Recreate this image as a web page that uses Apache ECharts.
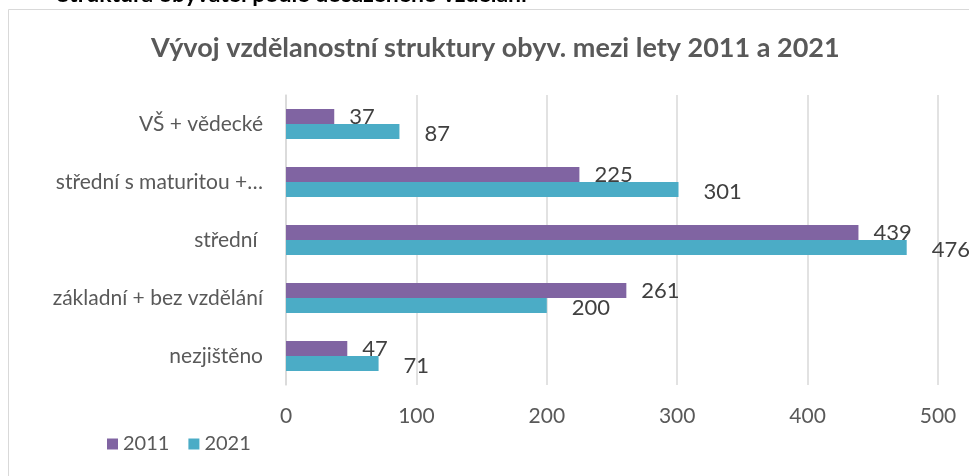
<!DOCTYPE html>
<html>
<head>
<meta charset="utf-8">
<script src="https://cdn.jsdelivr.net/npm/echarts@6/dist/echarts.min.js"></script>
<style>
  html, body { margin: 0; padding: 0; background: #fff; }
  #main { width: 969px; height: 476px; }
</style>
</head>
<body>
<div id="main"></div>
<script>
  // data
  var categories = ['VŠ + vědecké', 'střední s maturitou +…', 'střední ', 'základní + bez vzdělání', 'nezjištěno'];
  var values2011 = [37, 225, 439, 261, 47];
  var values2021 = [87, 301, 476, 200, 71];
  var seriesNames = ['2011', '2021'];

  var font = 'Lato, "Open Sans", sans-serif';
  var myChart = echarts.init(document.getElementById('main'));

  var option = {
    animation: false,
    textStyle: { fontFamily: font },
    graphic: [
      {
        type: 'rect',
        shape: { x: 8.5, y: 9.5, width: 1000, height: 600 },
        style: { fill: '#fff', stroke: '#d9d9d9', lineWidth: 1 },
        z: -10
      },
      {
        type: 'text',
        left: 57,
        top: -17,
        style: {
          text: 'Struktura obyvatel podle dosaženého vzdělání',
          fill: '#000',
          font: 'bold 23px ' + font
        }
      }
    ],
    title: {
      text: 'Vývoj vzdělanostní struktury obyv. mezi lety 2011 a 2021',
      left: 146,
      top: 30,
      textStyle: { fontSize: 27, fontWeight: 'bold', color: '#595959', fontFamily: font }
    },
    legend: {
      data: seriesNames,
      left: 102,
      top: 429,
      icon: 'rect',
      itemWidth: 11,
      itemHeight: 11,
      itemGap: 19,
      textStyle: { fontSize: 20, color: '#595959', fontFamily: font }
    },
    grid: { left: 286, right: 31, top: 95, bottom: 91 },
    xAxis: {
      type: 'value',
      min: 0,
      max: 500,
      interval: 100,
      axisLine: { show: false },
      axisTick: { show: false },
      splitLine: { lineStyle: { color: '#d9d9d9', width: 1.5 } },
      axisLabel: { fontSize: 21, color: '#595959', margin: 21, fontFamily: font }
    },
    yAxis: {
      type: 'category',
      inverse: true,
      data: categories,
      axisLine: { lineStyle: { color: '#d9d9d9', width: 1.5 } },
      axisTick: { show: false },
      axisLabel: { fontSize: 21, color: '#595959', margin: 23, fontFamily: font }
    },
    series: [
      {
        name: seriesNames[0],
        type: 'bar',
        data: values2011,
        barWidth: 15,
        barGap: '0%',
        itemStyle: { color: '#8064a2' },
        label: {
          show: true, position: 'right', distance: 15,
          fontSize: 22, color: '#404040', fontFamily: font
        }
      },
      {
        name: seriesNames[1],
        type: 'bar',
        data: values2021,
        barWidth: 15,
        barGap: '0%',
        itemStyle: { color: '#4bacc6' },
        label: {
          show: true, position: 'right', distance: 25, offset: [0, 2],
          fontSize: 22, color: '#404040', fontFamily: font
        }
      }
    ]
  };

  myChart.setOption(option);
</script>
</body>
</html>
